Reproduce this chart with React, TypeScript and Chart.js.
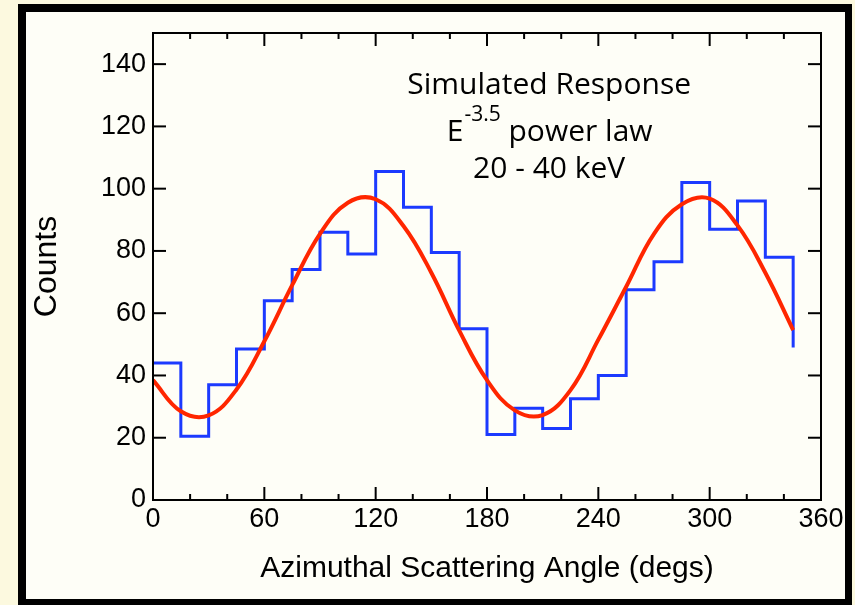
import React, { useEffect, useRef } from "react";
import { Chart, registerables } from "chart.js";

Chart.register(...registerables);

// Histogram bin start angles (degrees) and counts
const binAngles = [0, 15, 30, 45, 60, 75, 90, 105, 120, 135, 150, 165, 180, 195, 210, 225, 240, 255, 270, 285, 300, 315, 330, 345];
const binCounts = [44, 20.5, 37, 48.5, 64, 74, 86, 79, 105.5, 94, 79.5, 55, 21, 29.5, 23, 32.5, 40, 67.5, 76.5, 102, 87, 96, 78, 49];

// Fitted response curve
const fitAngles = [0, 15, 30, 45, 60, 75, 90, 105, 120, 135, 150, 165, 180, 195, 210, 225, 240, 255, 270, 285, 300, 315, 330, 345];
const fitCounts = [38.5, 28.5, 27.2, 35.5, 51, 69, 85.5, 95.5, 96.6, 88, 73, 54.5, 38.5, 28.8, 27.3, 35.3, 51.5, 68.5, 85.5, 95, 96.8, 88.2, 73, 54.6];

// Axis ticks
const xMajorStep = 60;
const xMinorStep = 20;
const yStep = 20;
const xMin = 0;
const xMax = 360;
const yMin = 0;
const yMax = 150;

// Texts
const xTitle = "Azimuthal Scattering Angle (degs)";
const yTitle = "Counts";
const noteLine1 = "Simulated Response";
const noteBase = "E";
const noteExponent = "-3.5";
const noteLine2 = " power law";
const noteLine3 = "20 - 40 keV";

const BLUE = "rgb(28, 58, 255)";
const RED = "rgb(255, 38, 0)";
const SANS = "'Liberation Sans', Arial, sans-serif";

const framePlugin = {
  id: "framePlugin",
  afterDraw(chart: any) {
    const { ctx, chartArea: a, scales } = chart;
    const x = scales.x;
    const y = scales.y;
    ctx.save();
    ctx.strokeStyle = "#000";
    ctx.lineWidth = 2;
    ctx.strokeRect(a.left, a.top, a.right - a.left, a.bottom - a.top);
    const seg = (x1: number, y1: number, x2: number, y2: number) => {
      ctx.beginPath();
      ctx.moveTo(x1, y1);
      ctx.lineTo(x2, y2);
      ctx.stroke();
    };
    for (let v = xMin; v <= xMax; v += xMinorStep) {
      const px = x.getPixelForValue(v);
      const len = v % xMajorStep === 0 ? 13 : 6;
      seg(px, a.bottom, px, a.bottom - len);
      seg(px, a.top, px, a.top + len);
    }
    for (let v = yMin; v < yMax; v += yStep) {
      const py = y.getPixelForValue(v);
      seg(a.left, py, a.left + 13, py);
      seg(a.right, py, a.right - 13, py);
    }

    // annotation text
    ctx.fillStyle = "#000";
    ctx.textBaseline = "alphabetic";
    const cx = x.getPixelForValue(213.5);
    const mainFont = "30px 'Open Sans'";
    const supFont = "21px 'Open Sans'";
    ctx.font = mainFont;
    ctx.textAlign = "center";
    ctx.fillText(noteLine1, cx, y.getPixelForValue(130.5));
    ctx.fillText(noteLine3, cx, y.getPixelForValue(103.5));
    // line 2 with superscript
    const b2 = y.getPixelForValue(115.2);
    ctx.textAlign = "left";
    ctx.font = mainFont;
    const wE = ctx.measureText(noteBase).width;
    const wRest = ctx.measureText(noteLine2).width;
    ctx.font = supFont;
    const wSup = ctx.measureText(noteExponent).width;
    const total = wE + wSup + wRest;
    let sx = cx - total / 2;
    ctx.font = mainFont;
    ctx.fillText(noteBase, sx, b2);
    sx += wE + 1;
    ctx.font = supFont;
    ctx.fillText(noteExponent, sx, b2 - 20);
    sx += wSup;
    ctx.font = mainFont;
    ctx.fillText(noteLine2, sx, b2);
    ctx.restore();
  },
};

export default function App() {
  const ref = useRef<HTMLCanvasElement | null>(null);

  useEffect(() => {
    if (!ref.current) return;
    const chart = new Chart(ref.current, {
      type: "line",
      data: {
        datasets: [
          {
            label: "fit",
            data: fitAngles.map((a, i) => ({ x: a, y: fitCounts[i] })),
            borderColor: RED,
            borderWidth: 4,
            pointRadius: 0,
            fill: false,
            tension: 0.4,
            order: 0,
          },
          {
            label: "counts",
            data: binAngles.map((a, i) => ({ x: a, y: binCounts[i] })),
            borderColor: BLUE,
            borderWidth: 3,
            pointRadius: 0,
            fill: false,
            stepped: "before",
            order: 1,
          },
        ],
      },
      options: {
        animation: false,
        responsive: false,
        events: [],
        layout: { padding: { top: 33, right: 34, left: 0, bottom: 0 } },
        plugins: { legend: { display: false }, tooltip: { enabled: false }, title: { display: false } },
        scales: {
          x: {
            type: "linear",
            min: xMin,
            max: xMax,
            grid: { display: false, drawTicks: false },
            border: { display: false },
            ticks: {
              stepSize: xMajorStep,
              color: "#000",
              padding: 3,
              maxRotation: 0,
              font: { family: SANS, size: 27 },
            },
            title: {
              display: true,
              text: xTitle,
              color: "#000",
              font: { family: SANS, size: 30 },
              padding: { top: 0, bottom: 18 },
            },
            afterFit: (s: any) => {
              s.height = 105;
            },
          },
          y: {
            type: "linear",
            min: yMin,
            max: yMax,
            grid: { display: false, drawTicks: false },
            border: { display: false },
            ticks: {
              stepSize: yStep,
              includeBounds: false,
              color: "#000",
              padding: 7,
              font: { family: SANS, size: 27 },
              callback: (v: any) => (v > 140 ? "" : String(v)),
            },
            title: {
              display: true,
              text: yTitle,
              color: "#000",
              font: { family: SANS, size: 32 },
              padding: { top: 28, bottom: 0 },
            },
            afterFit: (s: any) => {
              s.width = 153;
            },
          },
        },
      },
      plugins: [framePlugin],
    });
    return () => chart.destroy();
  }, []);

  return (
    <div style={{ position: "fixed", left: 0, top: 0, width: 855, height: 605, background: "#FCF9DF", overflow: "hidden" }}>
      <div
        style={{
          position: "absolute",
          left: 18,
          top: 4,
          width: 834,
          height: 603,
          boxSizing: "border-box",
          borderTop: "8px solid #000",
          borderLeft: "8px solid #000",
          borderRight: "7px solid #000",
          borderBottom: "8px solid #000",
          background: "#FEFEF7",
        }}
      />
      <canvas ref={ref} width={855} height={605} style={{ position: "absolute", left: 0, top: 0, width: 855, height: 605 }} />
    </div>
  );
}
